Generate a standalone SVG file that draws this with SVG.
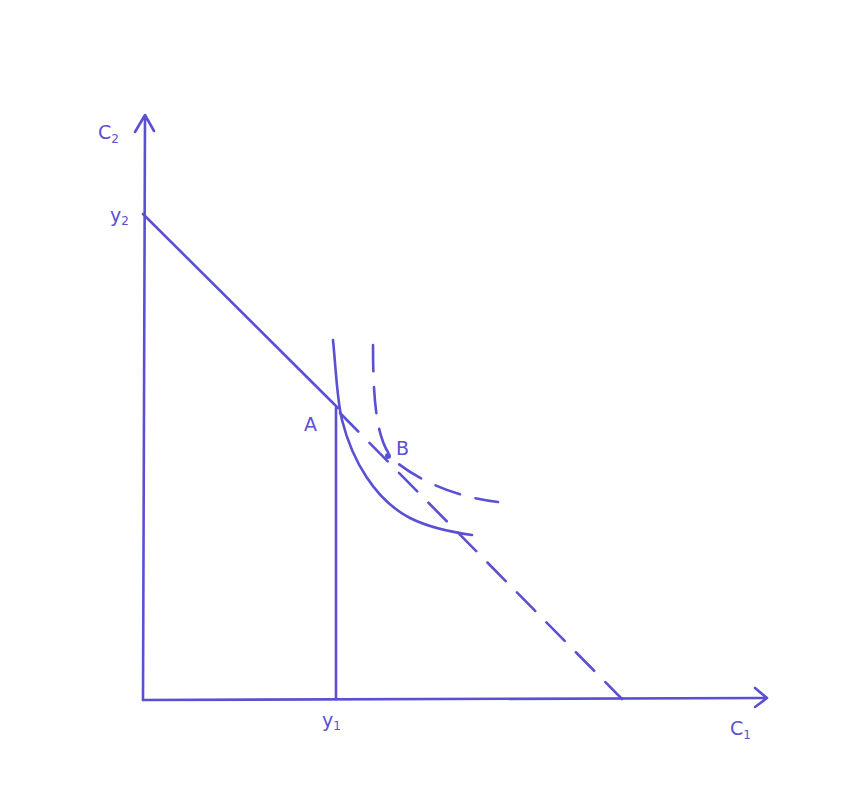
<svg xmlns="http://www.w3.org/2000/svg" width="847" height="803" viewBox="0 0 847 803">
<defs>
<style>
.ln{fill:none;stroke:#5b50d2;stroke-width:2.6;stroke-linecap:round;stroke-linejoin:round}
.ds{stroke-dasharray:26 16}
.lb{font-family:"DejaVu Sans",sans-serif;fill:#5b50d2;font-size:19px}
.sb{font-size:12px}
</style>
</defs>
<rect width="847" height="803" fill="#ffffff"/>
<g id="connectors">
<path id="axis-c2" class="ln" d="M143,700 L145,116 M135,132 L145,115 L154,131"/>
<path id="axis-c1" class="ln" d="M143,700 L767,698 M755,688 L767,698 L755,707"/>
<path id="budget-solid" class="ln" d="M143,214 L338,408"/>
<path id="budget-dashed" class="ln ds" d="M340,413 L622,699"/>
<path id="y1-line" class="ln" d="M336,408 L336,699"/>
<path id="ic-solid" class="ln" d="M333,340 C336,370 337,400 342,420 C352,460 375,500 410,518 C430,528 450,532 472,535"/>
<path id="ic-dashed" class="ln ds" d="M373,345 C373,410 378,445 395,461 C420,482 460,498 498,502"/>
<circle cx="388" cy="456" r="3" fill="#5b50d2"/>
</g>
<g id="labels">
<text class="lb" x="98" y="139">C<tspan class="sb" dy="4">2</tspan></text>
<text class="lb" x="110" y="222">y<tspan class="sb" dy="3">2</tspan></text>
<text class="lb" x="304" y="431">A</text>
<text class="lb" x="396" y="455">B</text>
<text class="lb" x="322" y="727">y<tspan class="sb" dy="3">1</tspan></text>
<text class="lb" x="730" y="735">C<tspan class="sb" dy="4">1</tspan></text>
</g>
</svg>
